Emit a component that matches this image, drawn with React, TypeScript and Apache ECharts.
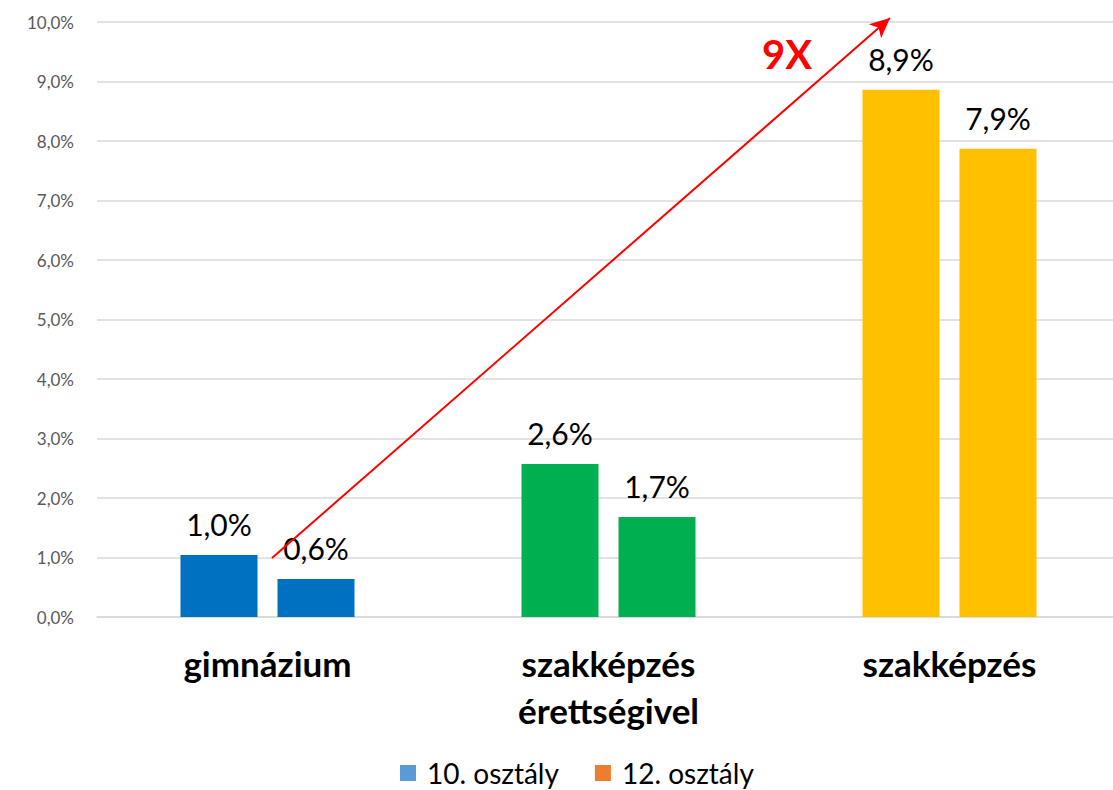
import React, { useEffect, useRef } from "react";
import * as echarts from "echarts";

const categories = ["gimnázium", "szakképzés\nérettségivel", "szakképzés"];
const seriesNames = ["10. osztály", "12. osztály"];
const grade10 = [1.04, 2.57, 8.86];
const grade12 = [0.64, 1.68, 7.87];
const categoryColors = ["#0070C0", "#00B050", "#FFC000"];
const legendColors = ["#5B9BD5", "#ED7D31"];
const yTicks = [0, 10, 1];

const fmt = (v: number) => v.toFixed(1).replace(".", ",") + "%";

export default function App() {
  const ref = useRef<HTMLDivElement>(null);
  useEffect(() => {
    if (!ref.current) return;
    const chart = echarts.init(ref.current, null, { renderer: "svg" });
    const font = "Lato, 'Noto Sans', sans-serif";
    const mkSeries = (name: string, data: number[], idx: number) => ({
      name,
      type: "bar",
      barWidth: 77,
      barGap: "26%",
      itemStyle: { color: legendColors[idx] },
      data: data.map((v, i) => ({ value: v, itemStyle: { color: categoryColors[i] } })),
      label: {
        show: true,
        position: "top",
        distance: 16,
        color: "#000",
        fontSize: 30,
        fontFamily: font,
        formatter: (p: any) => fmt(p.value),
      },
      ...(idx === 0
        ? {
            markLine: {
              silent: true,
              animation: false,
              symbol: ["none", "arrow"],
              symbolSize: [14, 20],
              label: { show: false },
              lineStyle: { color: "#FF0000", width: 2, type: "solid" },
              data: [[{ x: 272, y: 558 }, { x: 890, y: 18 }]],
            },
          }
        : {}),
    });
    chart.setOption({
      animation: false,
      backgroundColor: "#fff",
      textStyle: { fontFamily: font },
      grid: { left: 97, top: 22, width: 1023, height: 595 },
      legend: {
        left: 395,
        top: 754,
        itemWidth: 16,
        itemHeight: 16,
        itemGap: 36,
        icon: "rect",
        textStyle: { fontSize: 28, color: "#000", fontFamily: font, padding: [0, 0, 0, 6] },
        data: seriesNames,
      },
      xAxis: {
        type: "category",
        data: categories,
        axisLine: { show: true, lineStyle: { color: "#d9d9d9", width: 1.5 } },
        axisTick: { show: false },
        axisLabel: {
          margin: 22,
          fontSize: 35,
          fontWeight: "bold",
          color: "#000",
          lineHeight: 47,
          fontFamily: font,
        },
      },
      yAxis: {
        type: "value",
        min: yTicks[0],
        max: yTicks[1],
        interval: yTicks[2],
        axisLine: { show: false },
        axisTick: { show: false },
        splitLine: { lineStyle: { color: "#d9d9d9", width: 1.5 } },
        axisLabel: {
          margin: 23,
          fontSize: 17,
          color: "#595959",
          fontFamily: font,
          formatter: (v: number) => fmt(v),
        },
      },
      graphic: [
        {
          type: "text",
          left: 762,
          top: 34,
          style: {
            text: "9X",
            fill: "#FF0000",
            font: "bold 40px Lato, 'Noto Sans', sans-serif",
          },
        },
      ],
      series: [mkSeries(seriesNames[0], grade10, 0), mkSeries(seriesNames[1], grade12, 1)],
    });
    return () => chart.dispose();
  }, []);
  return (
    <div
      ref={ref}
      style={{ position: "fixed", left: 0, top: 0, width: 1125, height: 790, background: "#fff" }}
    />
  );
}
